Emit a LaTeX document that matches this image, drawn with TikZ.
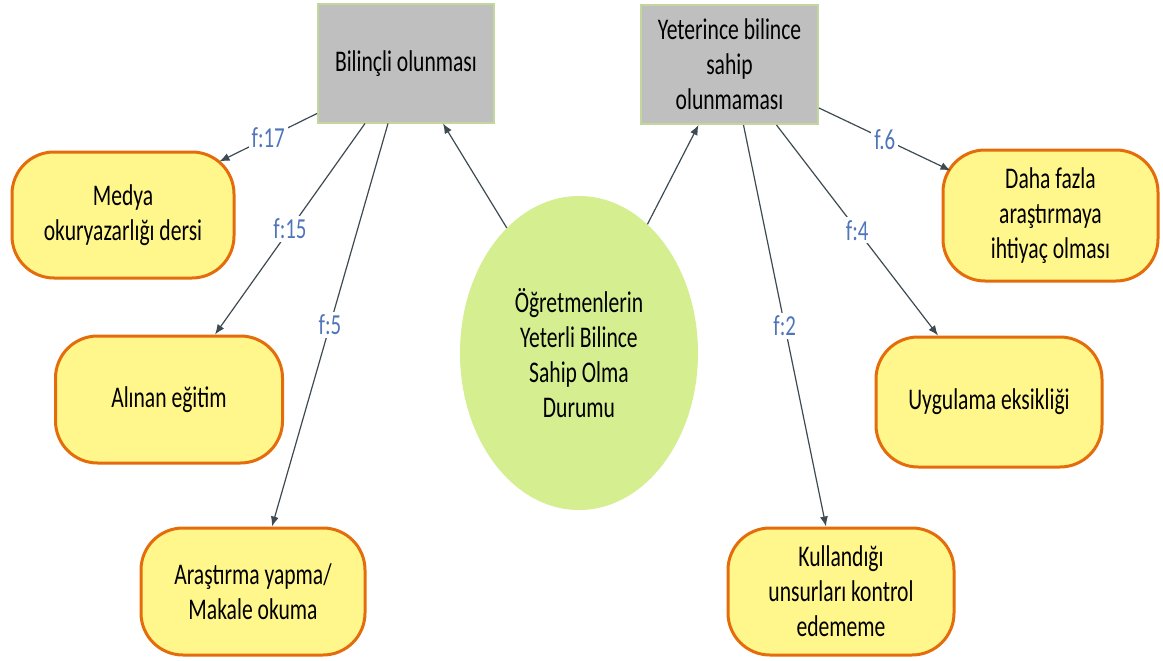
\documentclass[tikz,border=0pt]{standalone}
\usepackage{fontspec}
\setmainfont{Carlito}[FakeStretch=0.72]
\usetikzlibrary{arrows.meta,calc,shapes.geometric}
\definecolor{boxgray}{HTML}{BFBFBF}
\definecolor{boxedge}{HTML}{C3D69B}
\definecolor{ellfill}{HTML}{D5EE8F}
\definecolor{yelfill}{HTML}{FFF68C}
\definecolor{orangeedge}{HTML}{E46C0A}
\definecolor{arrowcol}{HTML}{3D4A52}
\definecolor{labcol}{HTML}{5075BB}
\begin{document}
\begin{tikzpicture}[x=1pt,y=-1pt,
  every node/.style={font=\fontsize{30}{35}\selectfont, align=center, inner sep=0pt},
  graybox/.style={draw=boxedge, line width=2pt, fill=boxgray, minimum width=176pt, minimum height=118pt},
  yelbox/.style={draw=orangeedge, line width=3pt, fill=yelfill, rounded corners=42pt},
  bigell/.style={ellipse, fill=ellfill, minimum width=238pt, minimum height=314pt},
  conn/.style={draw=arrowcol, line width=1.2pt, -{Latex[length=10pt,width=8pt]}},
  flab/.style={fill=white, text=labcol, font=\fontsize{29}{32}\selectfont, inner sep=3pt}
]
\fill[white] (0,0) rectangle (1163,661);
\path[use as bounding box] (0,0) rectangle (1163,661);

% main nodes
\node[graybox] (b1) at (406,63.5) {Bilinçli olunması};
\node[graybox, minimum width=177pt, minimum height=119pt] (b2) at (729.5,64.5) {Yeterince bilince\\sahip\\olunmaması};
\node[bigell] (ell) at (579,353) {Öğretmenlerin\\Yeterli Bilince\\Sahip Olma\\Durumu};

% left boxes
\node[yelbox, minimum width=222pt, minimum height=126pt] (medya) at (123,215) {Medya\\okuryazarlığı dersi};
\node[yelbox, minimum width=227pt, minimum height=127pt] (alinan) at (169,399.5) {Alınan eğitim};
\node[yelbox, minimum width=224pt, minimum height=127pt] (arast) at (253,591.5) {Araştırma yapma/\\Makale okuma};

% right boxes
\node[yelbox, minimum width=215pt, minimum height=131pt] (daha) at (1050.5,215.5) {Daha fazla\\araştırmaya\\ihtiyaç olması};
\node[yelbox, minimum width=226pt, minimum height=130pt] (uyg) at (989,402) {Uygulama eksikliği};
\node[yelbox, minimum width=226pt, minimum height=127pt] (kull) at (841,591.5) {Kullandığı\\unsurları kontrol\\edememe};

% connectors
\draw[conn] ($(b1.south west)+(0,-10)$) -- node[flab]{f:17} ($(medya.north east)+(-16,11)$);
\draw[conn] ($(b1.south)+(-41,0)$) -- node[flab]{f:15} ($(alinan.north)+(46,0)$);
\draw[conn] ($(b1.south)+(-18,0)$) -- node[flab]{f:5} ($(arast.north)+(19,0)$);
\draw[conn] (ell.120) -- ($(b1.south)+(37,0)$);
\draw[conn] (ell.62) -- ($(b2.south)+(-31,0)$);
\draw[conn] ($(b2.south east)+(0,-17)$) -- node[flab]{f.6} ($(daha.north west)+(9,22)$);
\draw[conn] ($(b2.south)+(47,0)$) -- node[flab]{f:4} ($(uyg.north)+(-51,0)$);
\draw[conn] ($(b2.south)+(14,0)$) -- node[flab]{f:2} ($(kull.north)+(-15,0)$);
\end{tikzpicture}
\end{document}
